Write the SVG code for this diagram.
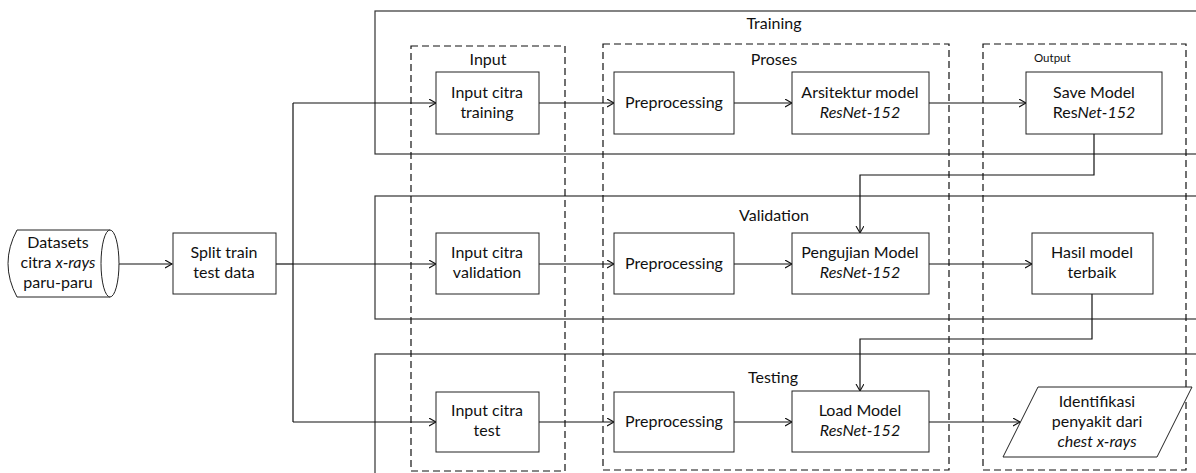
<svg xmlns="http://www.w3.org/2000/svg" width="1196" height="473" viewBox="0 0 1196 473">
<defs>
<style>
.box{fill:#fff;stroke:#222;stroke-width:1}
.panel{fill:none;stroke:#333;stroke-width:1.2}
.dash{fill:none;stroke:#111;stroke-width:1.2;stroke-dasharray:7 4}
.c{fill:none;stroke:#111;stroke-width:1.2}
text{font-family:Lato,"Liberation Sans",sans-serif;font-size:16px;fill:#111;text-anchor:middle}
.i{font-style:italic}
.sm{font-size:11.5px;text-anchor:start}
</style>
<marker id="ah" markerUnits="userSpaceOnUse" markerWidth="10" markerHeight="10" refX="7" refY="4" orient="auto">
<path d="M0,0 L7,4 L0,8" fill="none" stroke="#111" stroke-width="1.1"/>
</marker>
</defs>
<rect width="1196" height="473" fill="#fff"/>

<g id="panels">
<g id="training-panel"><rect class="panel" x="375" y="11" width="840" height="143"/><text x="774" y="29">Training</text></g>
<g id="validation-panel"><rect class="panel" x="375" y="196" width="840" height="123"/><text x="774" y="221">Validation</text></g>
<g id="testing-panel"><rect class="panel" x="375" y="354" width="840" height="140"/><text x="773" y="383">Testing</text></g>
</g>

<g id="groups">
<g id="input-group"><rect class="dash" x="411" y="46" width="154" height="425"/><text x="488" y="65">Input</text></g>
<g id="proses-group"><rect class="dash" x="603" y="44" width="346" height="426"/><text x="774" y="65">Proses</text></g>
<g id="output-group"><rect class="dash" x="983" y="44" width="203" height="426"/><text class="sm" x="1034" y="62">Output</text></g>
</g>

<g id="connectors">
<path class="c" d="M110,264 H172" marker-end="url(#ah)"/>
<path class="c" d="M276,264 H293"/>
<path class="c" d="M293,103 V422"/>
<path class="c" d="M293,103 H436" marker-end="url(#ah)"/>
<path class="c" d="M293,264 H436" marker-end="url(#ah)"/>
<path class="c" d="M293,422 H436" marker-end="url(#ah)"/>
<path class="c" d="M539,103 H614" marker-end="url(#ah)"/>
<path class="c" d="M539,264 H614" marker-end="url(#ah)"/>
<path class="c" d="M539,422 H614" marker-end="url(#ah)"/>
<path class="c" d="M734,103 H792" marker-end="url(#ah)"/>
<path class="c" d="M734,264 H792" marker-end="url(#ah)"/>
<path class="c" d="M734,422 H792" marker-end="url(#ah)"/>
<path class="c" d="M929,103 H1026" marker-end="url(#ah)"/>
<path class="c" d="M929,264 H1032" marker-end="url(#ah)"/>
<path class="c" d="M929,422 H1020" marker-end="url(#ah)"/>
<path class="c" d="M1094,134 V175 H860 V233" marker-end="url(#ah)"/>
<path class="c" d="M1092,294 V339 H860 V391" marker-end="url(#ah)"/>
</g>

<g id="datasets">
<path class="box" d="M17,230 H110 A9,33.5 0 0 1 110,297 H17 Q-1,263.5 17,230 Z"/>
<path class="box" d="M110,230 A9,33.5 0 0 0 110,297"/>
<text x="58" y="248">Datasets</text>
<text x="58" y="268">citra <tspan class="i">x-rays</tspan></text>
<text x="58" y="288">paru-paru</text>
</g>

<g id="split"><rect class="box" x="173" y="233" width="103" height="61"/><text x="224" y="258">Split train</text><text x="224" y="278">test data</text></g>

<g id="input-training"><rect class="box" x="436" y="72" width="103" height="62"/><text x="487" y="98">Input citra</text><text x="487" y="118">training</text></g>
<g id="pre-training"><rect class="box" x="614" y="72" width="120" height="62"/><text x="674" y="108">Preprocessing</text></g>
<g id="arsitektur"><rect class="box" x="792" y="72" width="137" height="62"/><text x="860" y="98">Arsitektur model</text><text class="i" x="860" y="118">ResNet-152</text></g>
<g id="save-model"><rect class="box" x="1026" y="72" width="136" height="62"/><text x="1094" y="98">Save Model</text><text x="1094" y="118">Res<tspan class="i">Net-152</tspan></text></g>

<g id="input-validation"><rect class="box" x="436" y="233" width="103" height="61"/><text x="487" y="258">Input citra</text><text x="487" y="278">validation</text></g>
<g id="pre-validation"><rect class="box" x="614" y="233" width="120" height="61"/><text x="674" y="269">Preprocessing</text></g>
<g id="pengujian"><rect class="box" x="792" y="233" width="137" height="61"/><text x="860" y="258">Pengujian Model</text><text class="i" x="860" y="278">ResNet-152</text></g>
<g id="hasil"><rect class="box" x="1032" y="233" width="121" height="61"/><text x="1092" y="258">Hasil model</text><text x="1092" y="278">terbaik</text></g>

<g id="input-test"><rect class="box" x="436" y="392" width="103" height="60"/><text x="487" y="416">Input citra</text><text x="487" y="436">test</text></g>
<g id="pre-test"><rect class="box" x="614" y="392" width="120" height="60"/><text x="674" y="427">Preprocessing</text></g>
<g id="load-model"><rect class="box" x="792" y="391" width="137" height="61"/><text x="860" y="416">Load Model</text><text class="i" x="860" y="436">ResNet-152</text></g>
<g id="identifikasi"><path class="box" d="M1038,387 H1192 L1157,457 H1003 Z"/><text x="1097" y="407">Identifikasi</text><text x="1097" y="427">penyakit dari</text><text class="i" x="1097" y="447">chest x-rays</text></g>
</svg>
